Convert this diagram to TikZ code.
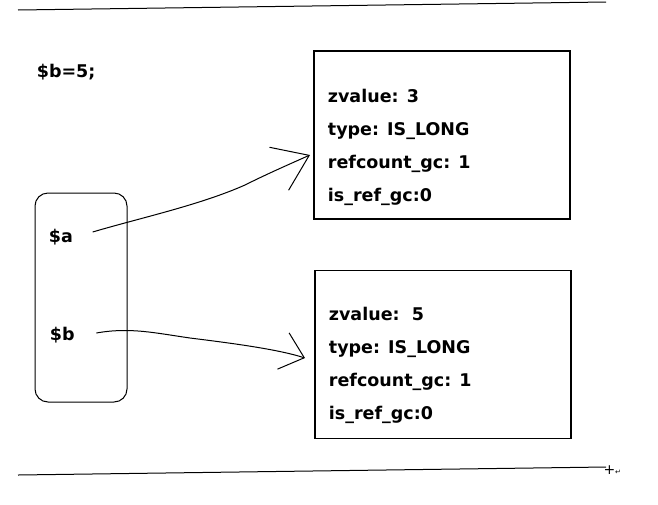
\documentclass[tikz,border=0pt]{standalone}
\usepackage{fontspec}
\setmainfont{DejaVu Sans}
\newfontfamily\symfont{DejaVu Sans}
\usetikzlibrary{positioning, arrows.meta, calc}
\tikzset{
  memory/.style={
	x=1pt, y=-1pt, % one unit is one pixel of the sketch, y runs down
	line width=1pt,
	every node/.style={font=\bfseries\fontsize{17.5}{33}\selectfont},
  },
  zvalbox/.style={draw, line width=1.2pt, minimum width=256pt, minimum height=168pt, inner sep=0pt},
  fields/.style={align=left, anchor=north west, inner sep=0pt},
  hand/.style 2 args={-{Straight Barb[length=#1, width=#2]}, line width=1pt},
}

\begin{document}
\begin{tikzpicture}[memory]
	  \useasboundingbox (0,0) rectangle (658,504);
	  % the two zvals on the heap
	  \node[zvalbox] (zv3) at (442,135) {};
	  \node[zvalbox, below=50pt of zv3, xshift=1pt] (zv5) {};
	  \node[fields] (zv3f) at ([xshift=14pt, yshift=-38pt]zv3.north west)
		{zvalue: 3\\type: IS\_LONG\\refcount\_gc: 1\\is\_ref\_gc:0};
	  \node[fields] (zv5f) at ([xshift=14pt, yshift=-37pt]zv5.north west)
		{zvalue:\ \ 5\\type: IS\_LONG\\refcount\_gc: 1\\is\_ref\_gc:0};
	  % the symbol table
	  \node[anchor=west] (assign) at (33,72) {\$b=5;};
	  \node[draw, rounded corners=13pt, minimum width=92pt, minimum height=209pt] (symtab) at (81,297.5) {};
	  \node[anchor=west] (va) at (45,237) {\$a};
	  \node[anchor=west] (vb) at (46,335) {\$b};
	  \coordinate (tipa) at (310,155);
	  \coordinate (tipb) at (305,358);
	  \draw[hand={33pt}{47pt}] ([xshift=16pt, yshift=5pt]va.east)
		.. controls (140,218) and (200,205) .. (245,185)
		.. controls (265,175) and (283,167) .. (tipa);
	  \draw[hand={22pt}{38pt}] ([xshift=18pt, yshift=2pt]vb.east)
		.. controls (130,327) and (155,333) .. (190,338)
		.. controls (230,343) and (277,349) .. (tipb);
	  % page rules
	  \draw (18,10) -- (606,2);
	  \draw (18,475) -- (606,467);
	  \node[font=\fontsize{14}{14}\selectfont, inner sep=0pt, anchor=west] (mark) at (603,470)
		{+{\symfont\fontsize{7}{7}\selectfont ↵}};
\end{tikzpicture}
\end{document}
